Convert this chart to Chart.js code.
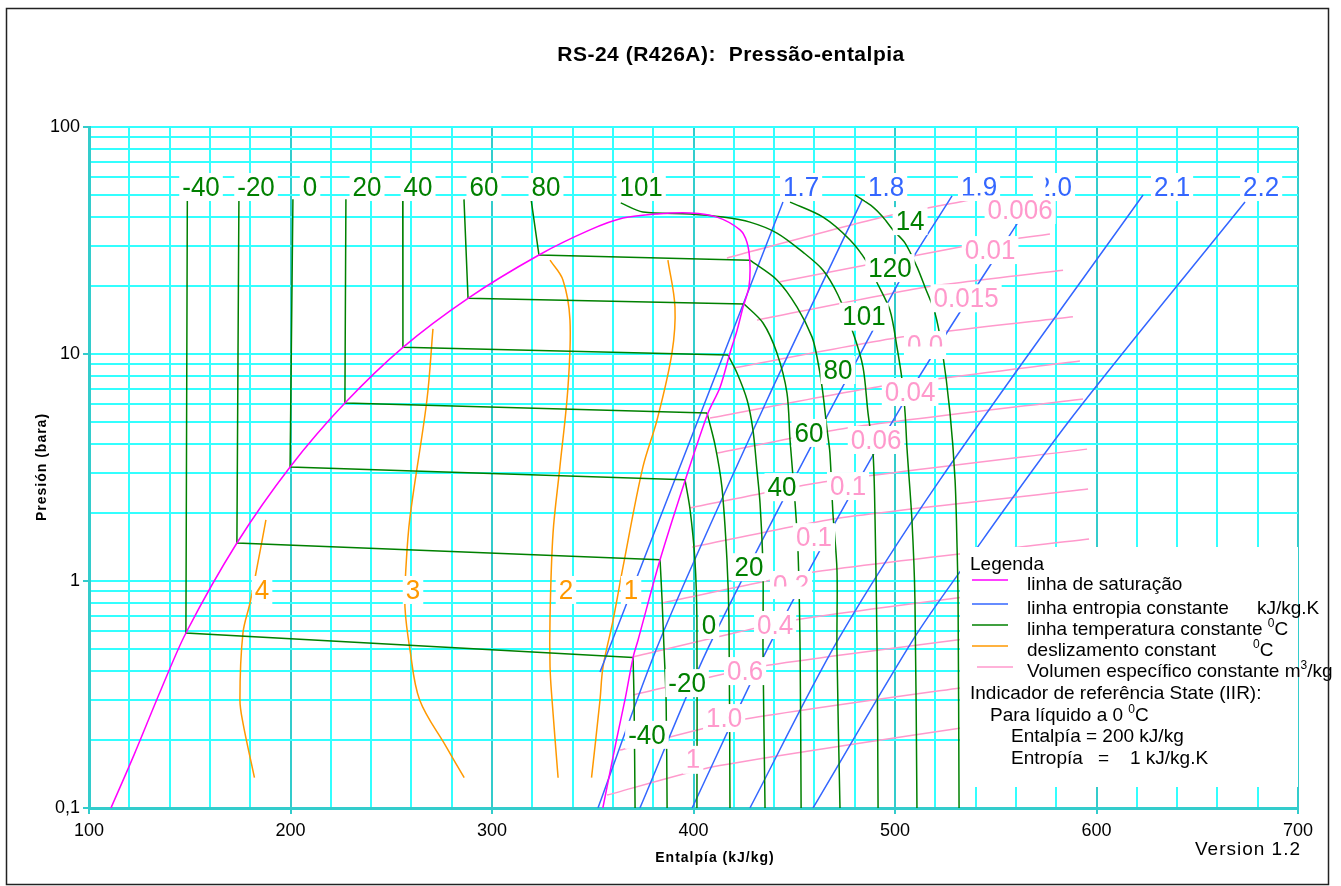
<!DOCTYPE html>
<html>
<head>
<meta charset="utf-8">
<script src="https://cdn.jsdelivr.net/npm/chart.js@4.4.1/dist/chart.umd.min.js"></script>
<style>
  html, body { margin: 0; background: #fff; }
  canvas { display: block; }
</style>
</head>
<body>
<canvas id="chart" width="1341" height="886"></canvas>
<script>
// axis grid
const hMin = 100, hMax = 700, hStep = 20;
const pGrid = [0.1, 0.2, 0.3, 0.4, 0.5, 0.6, 0.7, 0.8, 0.9, 1, 2, 3, 4, 5, 6, 7, 8, 9, 10, 20, 30, 40, 50, 60, 70, 80, 90, 100];
const pTickText = ['0,1', '', '', '', '', '', '', '', '', '1', '', '', '', '', '', '', '', '', '10', '', '', '', '', '', '', '', '', '100'];

// saturation line [h kJ/kg, p bar]
const saturation = [[110.9, 0.1], [122.3, 0.171], [135.6, 0.33], [148.1, 0.59], [173.4, 1.47], [199.8, 3.18], [227.0, 6.08], [255.8, 10.7], [288.1, 17.6], [323.3, 27.3], [348.6, 35.2], [365.0, 39.7], [381.9, 41.4], [398.3, 41.8], [411.7, 40.1], [423.1, 35.2], [426.6, 30.9], [428.0, 25.1], [427.5, 19.7], [424.6, 16.1], [421.6, 12.7], [418.1, 10.1], [413.2, 7.14], [407.2, 5.5], [396.0, 2.8], [383.4, 1.24], [372.5, 0.55], [370.0, 0.46], [366.0, 0.30], [361.8, 0.2], [355.0, 0.1]];

// isotherms -40..80 : liquid top, bubble point, dew point
const isoTopH = [148.8, 174.4, 201.2, 227.5, 255.7, 286.1, 319.4];
const isoTopP = 48;
const bubbleH = [148.1, 173.4, 199.8, 227.0, 255.8, 288.1, 323.3];
const bubbleP = [0.59, 1.47, 3.18, 6.08, 10.7, 17.6, 27.3];
const dewH = [370.0, 383.4, 395.8, 406.7, 417.1, 425.1, 428.0];
const dewP = [0.46, 1.24, 2.79, 5.50, 9.90, 16.6, 25.9];
// vapour branches after the dew point
const vapM40 = [[370.5, 0.299], [371.0, 0.1]];
const vapM20 = [[384.4, 0.825], [385.4, 0.497], [386.4, 0.299], [386.9, 0.1]];
const vap0 = [[398.3, 2.06], [400.7, 1.24], [401.7, 0.673], [401.7, 0.1]];
const vap20 = [[410.7, 3.97], [414.1, 2.59], [416.6, 1.24], [417.6, 0.673], [418.1, 0.1]];
const vap40 = [[421.6, 8.25], [426.6, 6.27], [429.5, 4.63], [431.5, 3.08], [433.0, 2.21], [434.5, 1.12], [434.5, 0.497], [435.5, 0.1]];
const vap60 = [[434.5, 13.7], [441.4, 10.1], [446.4, 6.73], [447.9, 4.18], [450.4, 2.21], [451.9, 1.33], [452.9, 0.497], [453.4, 0.1]];
const vap80 = [[441.4, 21.2], [451.4, 16.1], [458.8, 11.9], [461.3, 9.70], [463.8, 7.16], [466.3, 4.63], [467.7, 3.66], [469.2, 1.99], [471.2, 1.12], [471.2, 0.497], [472.7, 0.1]];
// isotherms 101, 120, 140
const iso101 = [[363.9, 46.3], [374.9, 42.2], [398.3, 41.4], [414.6, 40.1], [428.0, 38.1], [441.4, 34.1], [454.3, 28.1], [464.3, 23.4], [471.7, 18.2], [479.2, 12.4], [484.1, 8.77], [486.6, 5.50], [489.1, 3.66], [490.1, 1.86], [491.1, 0.497], [491.6, 0.1]];
const iso120 = [[447.9, 46.7], [464.3, 40.1], [477.7, 31.8], [486.1, 25.4], [491.1, 20.6], [497.5, 15.6], [501.0, 10.7], [503.5, 7.68], [505.0, 5.50], [506.0, 3.78], [508.4, 1.86], [509.9, 0.825], [510.9, 0.1]];
const iso140 = [[480.1, 50.2], [489.1, 44.4], [494.0, 40.1], [499.0, 35.2], [505.0, 30.8], [510.9, 24.2], [514.9, 19.7], [519.8, 15.2], [523.3, 10.6], [527.3, 5.50], [529.8, 2.79], [530.8, 1.41], [531.3, 0.825], [531.8, 0.1]];

// constant entropy
const s17 = [[444.4, 46.7], [353.6, 0.397]];
const s18 = [[483.6, 47.6], [436.5, 6.27], [383.4, 0.55], [352.6, 0.1]];
const s19 = [[528.3, 49.7], [502.5, 21.2], [409.2, 0.55], [373.4, 0.1]];
const s20 = [[569.5, 49.7], [505.0, 6.27], [439.0, 0.55], [399.3, 0.1]];
const s21 = [[623.1, 50.2], [522.3, 2.79], [471.7, 0.55], [428.0, 0.1]];
const s22 = [[673.7, 46.7], [586.8, 5.12], [532.3, 1.10], [508.9, 0.55], [459.3, 0.1]];

// constant specific volume
const vol006 = [[416.6, 26.5], [494.0, 40.1], [537.2, 47.7]];
const vol010 = [[442.9, 20.8], [532.3, 29.6], [576.9, 33.8]];
const vol015 = [[431.5, 14.1], [514.9, 19.7], [583.4, 23.4]];
const vol020 = [[419.6, 8.67], [504.0, 11.9], [588.3, 14.6]];
const vol040 = [[408.2, 5.22], [491.1, 7.16], [591.8, 9.31]];
const vol060 = [[411.6, 3.66], [476.2, 4.72], [593.3, 6.34]];
const vol100 = [[398.3, 2.10], [464.3, 2.73], [595.3, 3.81]];
const vol150 = [[399.3, 1.41], [471.7, 1.89], [595.8, 2.54]];
const vol200 = [[384.4, 0.80], [461.3, 1.10], [596.3, 1.53]];
const vol400 = [[370.0, 0.463], [450.4, 0.673], [596.8, 1.0]];
const vol600 = [[370.0, 0.315], [434.5, 0.422], [596.8, 0.653]];
const vol1000 = [[363.5, 0.180], [423.1, 0.244], [532.3, 0.338], [596.8, 0.40]];
const vol1500 = [[357.1, 0.114], [409.7, 0.152], [532.3, 0.225], [596.8, 0.268]];

// constant glide
const glide4 = [[187.8, 1.86], [183.4, 1.15], [179.9, 0.80], [176.4, 0.59], [174.9, 0.30], [176.4, 0.237], [182.1, 0.136]];
const glide3 = [[270.7, 12.9], [267.7, 6.27], [259.3, 1.91], [257.3, 1.15], [256.8, 0.768], [259.3, 0.497], [264.1, 0.299], [277.3, 0.186], [286.2, 0.136]];
const glide2 = [[328.8, 25.9], [335.2, 21.2], [338.7, 14.1], [337.7, 7.14], [333.7, 3.18], [330.3, 1.63], [328.8, 0.694], [328.8, 0.418], [329.8, 0.299], [332.8, 0.136]];
const glide1 = [[387.3, 25.9], [390.8, 16.1], [389.3, 10.1], [381.9, 5.12], [374.9, 3.18], [365.0, 1.15], [360.1, 0.673], [355.1, 0.418], [353.6, 0.299], [349.4, 0.136]];

// in-plot labels
const topLabelP = 54.4;
const isoTopLabels = ['-40', '-20', '0', '20', '40', '60', '80', '101'];
const isoTopLabelH = [155.6, 182.9, 209.7, 238.0, 263.3, 296.0, 326.8, 374.0];
const entropyLabels = ['1.7', '1.8', '1.9', '2.0', '2.1', '2.2'];
const entropyLabelH = [453.4, 495.6, 541.7, 578.9, 637.5, 681.7];
const isoVapLabels = ['14', '120', '101', '80', '60', '40', '20', '0', '-20', '-40'];
const isoVapLabelH = [507.5, 497.5, 484.6, 471.7, 457.3, 443.9, 427.5, 407.7, 396.8, 376.9];
const isoVapLabelP = [38.5, 23.9, 14.6, 8.50, 4.49, 2.59, 1.15, 0.640, 0.355, 0.210];
const volLabels = ['0.006', '0.01', '0.015', '0.0', '0.04', '0.06', '0.1', '0.1', '0.2', '0.4', '0.6', '1.0', '1'];
const volLabelH = [562.1, 547.2, 535.3, 514.9, 507.5, 490.6, 476.7, 459.8, 448.4, 440.5, 425.6, 415.2, 399.8];
const volLabelP = [43.1, 28.7, 17.6, 10.95, 6.80, 4.18, 2.62, 1.56, 0.96, 0.640, 0.401, 0.249, 0.163];
const glideLabels = ['4', '3', '2', '1'];
const glideLabelH = [185.9, 260.8, 336.7, 369.0];
const glideLabelP = 0.913;

const GREEN = '#008000', MAGENTA = '#FF00FF', BLUE = '#3366FF', ORANGE = '#FF9900', PINK = '#FF99CC';
const FONT = '"Liberation Sans", Arial, sans-serif';

function line(points, color, tension = 0) {
  return {
    data: points.map(([h, p]) => ({ x: h, y: p })),
    borderColor: color,
    borderWidth: 1.5,
    pointRadius: 0,
    showLine: true,
    fill: false,
    tension
  };
}

const datasets = [];
datasets.push(line(saturation, MAGENTA, 0.3));
const vapour = [vapM40, vapM20, vap0, vap20, vap40, vap60, vap80];
isoTopH.forEach((h, i) => {
  datasets.push(line([[h, isoTopP], [bubbleH[i], bubbleP[i]], [dewH[i], dewP[i]]], GREEN));
  datasets.push(line([[dewH[i], dewP[i]], ...vapour[i]], GREEN, 0.3));
});
[iso101, iso120, iso140].forEach(pts => datasets.push(line(pts, GREEN, 0.3)));
[s17, s18, s19, s20, s21, s22].forEach(pts => datasets.push(line(pts, BLUE, 0.3)));
[vol006, vol010, vol015, vol020, vol040, vol060, vol100, vol150, vol200, vol400, vol600, vol1000, vol1500]
  .forEach(pts => datasets.push(line(pts, PINK, 0.2)));
[glide4, glide3, glide2, glide1].forEach(pts => datasets.push(line(pts, ORANGE, 0.35)));

// [hidden-left fraction, visible-top fraction]
const entropyClip = { 2: [0, 0.8], 3: [0.3, 1] };
const volClip = { 3: [0, 0.55], 8: [0, 0.55], 12: [0, 0.78] };

function drawLabel(ctx, text, x, y, color, clip) {
  ctx.save();
  ctx.font = `26px ${FONT}`;
  const w = ctx.measureText(text).width + 6;
  const h = 28;
  ctx.fillStyle = '#fff';
  ctx.fillRect(x - w / 2, y - h / 2, w, h);
  if (clip) {
    ctx.beginPath();
    ctx.rect(x - w / 2 + clip[0] * w, y - h / 2, w * (1 - clip[0]), h * clip[1]);
    ctx.clip();
  }
  ctx.translate(x, y);
  ctx.scale(1, 1.06);
  ctx.fillStyle = color;
  ctx.textAlign = 'center';
  ctx.textBaseline = 'middle';
  ctx.fillText(text, 0, 1);
  ctx.restore();
}

function richText(ctx, parts, x, y) {
  let cx = x;
  for (const [t, sup, at] of parts) {
    if (at) cx = at;
    ctx.font = sup ? `12px ${FONT}` : `19px ${FONT}`;
    ctx.fillText(t, cx, sup ? y - 6 : y);
    cx += ctx.measureText(t).width;
  }
}

const legendRows = [
  [[['linha de saturação']], MAGENTA],
  [[['linha entropia constante'], ['kJ/kg.K', false, 1257]], BLUE],
  [[['linha temperatura constante '], ['0', true], ['C']], GREEN],
  [[['deslizamento constant'], ['0', true, 1253], ['C']], ORANGE],
  [[['Volumen específico constante m'], ['3', true], ['/kg']], PINK]
];
const refRows = [
  [[['Indicador de referência State (IIR):']], 970],
  [[['Para líquido a 0 '], ['0', true], ['C']], 990],
  [[['Entalpía = 200 kJ/kg']], 1011],
  [[['Entropía'], ['=', false, 1098], ['1 kJ/kg.K', false, 1130]], 1011]
];

const overlay = {
  id: 'overlay',
  beforeDraw(chart) {
    const ctx = chart.ctx;
    ctx.save();
    ctx.fillStyle = '#fff';
    ctx.fillRect(0, 0, chart.width, chart.height);
    ctx.restore();
  },
  afterDatasetsDraw(chart) {
    const { ctx, scales: { x, y } } = chart;
    isoTopLabels.forEach((t, i) => drawLabel(ctx, t, x.getPixelForValue(isoTopLabelH[i]), y.getPixelForValue(topLabelP), GREEN));
    entropyLabels.forEach((t, i) => drawLabel(ctx, t, x.getPixelForValue(entropyLabelH[i]), y.getPixelForValue(topLabelP), BLUE, entropyClip[i]));
    isoVapLabels.forEach((t, i) => drawLabel(ctx, t, x.getPixelForValue(isoVapLabelH[i]), y.getPixelForValue(isoVapLabelP[i]), GREEN));
    volLabels.forEach((t, i) => drawLabel(ctx, t, x.getPixelForValue(volLabelH[i]), y.getPixelForValue(volLabelP[i]), PINK, volClip[i]));
    glideLabels.forEach((t, i) => drawLabel(ctx, t, x.getPixelForValue(glideLabelH[i]), y.getPixelForValue(glideLabelP), ORANGE));

    // legend box
    ctx.save();
    ctx.fillStyle = '#fff';
    ctx.fillRect(960, 547, x.right - 960, 240);
    ctx.fillStyle = '#000';
    ctx.textBaseline = 'middle';
    ctx.font = `19px ${FONT}`;
    ctx.fillText('Legenda', 970, 565);
    const rowY = [585, 609, 630, 651, 672];
    legendRows.forEach(([parts, color], i) => {
      ctx.strokeStyle = color;
      ctx.lineWidth = 1.5;
      const off = i === 4 ? 5 : 0;
      ctx.beginPath();
      ctx.moveTo(972 + off, rowY[i] - 5);
      ctx.lineTo(1008 + off, rowY[i] - 5);
      ctx.stroke();
      ctx.fillStyle = '#000';
      richText(ctx, parts, 1027, rowY[i]);
    });
    const refY = [694, 716, 737, 759];
    refRows.forEach(([parts, x0], i) => richText(ctx, parts, x0, refY[i]));
    ctx.restore();
  },
  afterDraw(chart) {
    const ctx = chart.ctx;
    ctx.save();
    ctx.fillStyle = '#000';
    ctx.textAlign = 'center';
    ctx.textBaseline = 'middle';
    ctx.font = `bold 21px ${FONT}`;
    ctx.letterSpacing = '0.5px';
    ctx.fillText('RS-24 (R426A):  Pressão-entalpia', 731, 55);
    ctx.font = `bold 14px ${FONT}`;
    ctx.letterSpacing = '1px';
    ctx.fillText('Entalpía (kJ/kg)', 715, 858);
    ctx.save();
    ctx.translate(42, 467);
    ctx.rotate(-Math.PI / 2);
    ctx.fillText('Presión (bara)', 0, 0);
    ctx.restore();
    ctx.font = `19px ${FONT}`;
    ctx.fillText('Version 1.2', 1248, 850);
    ctx.letterSpacing = '0px';
    ctx.strokeStyle = '#222';
    ctx.lineWidth = 1.5;
    ctx.strokeRect(6.5, 8.5, 1322, 876);
    ctx.restore();
  }
};

new Chart(document.getElementById('chart'), {
  type: 'scatter',
  data: { datasets },
  options: {
    responsive: false,
    animation: false,
    devicePixelRatio: 1,
    events: [],
    layout: { padding: { left: 0, top: 127, right: 43, bottom: 0 } },
    plugins: { legend: { display: false }, tooltip: { enabled: false }, title: { display: false } },
    scales: {
      x: {
        type: 'linear',
        min: hMin,
        max: hMax,
        afterFit: s => { s.height = 78; },
        ticks: {
          stepSize: hStep,
          autoSkip: false,
          maxRotation: 0,
          padding: 6,
          color: '#000',
          font: { size: 18, family: FONT },
          callback: v => (v % 100 === 0 ? String(v) : '')
        },
        grid: {
          lineWidth: 2,
          tickLength: 6,
          color: c => (c.tick && c.tick.value % 100 === 0 ? '#33CCCC' : '#33FFFF'),
          tickColor: c => (c.tick && c.tick.value % 100 === 0 ? '#33CCCC' : 'rgba(0,0,0,0)')
        },
        border: { color: '#33CCCC', width: 3 }
      },
      y: {
        type: 'logarithmic',
        min: 0.1,
        max: 100,
        afterBuildTicks: s => { s.ticks = pGrid.map(v => ({ value: v })); },
        afterFit: s => { s.width = 89; },
        ticks: {
          autoSkip: false,
          padding: 3,
          color: '#000',
          font: { size: 18, family: FONT },
          callback: (v, i) => pTickText[i]
        },
        grid: {
          lineWidth: 2,
          tickLength: 6,
          color: '#33FFFF',
          tickColor: c => (pTickText[c.index] ? '#33CCCC' : 'rgba(0,0,0,0)')
        },
        border: { color: '#33CCCC', width: 3 }
      }
    }
  },
  plugins: [overlay]
});
</script>
</body>
</html>
